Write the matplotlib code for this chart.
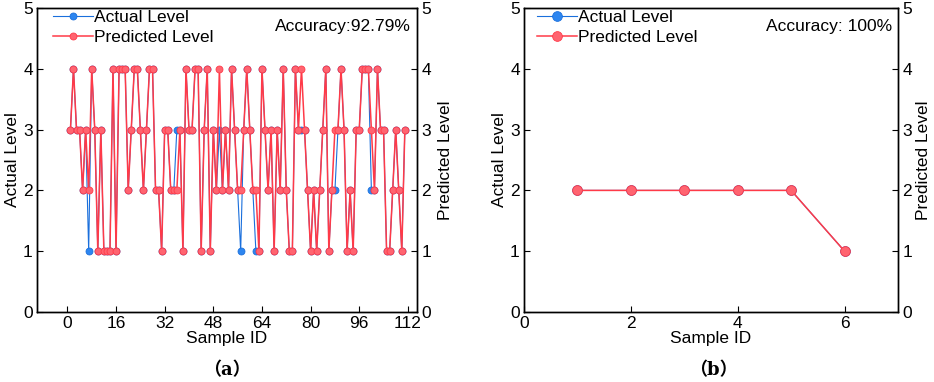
import matplotlib
matplotlib.use("Agg")
import matplotlib.pyplot as plt
import numpy as np

plt.rcParams['font.family'] = ['Liberation Sans', 'DejaVu Sans']

# ---- data: panel (a) ----
predicted_a = [3, 4, 3, 3, 2, 3, 2, 4, 3, 1,
               3, 1, 1, 1, 4, 1, 4, 4, 4, 2,
               3, 4, 4, 3, 2, 3, 4, 4, 2, 2,
               1, 3, 3, 2, 2, 2, 3, 1, 4, 3,
               3, 4, 4, 1, 3, 4, 1, 3, 2, 4,
               2, 3, 2, 4, 3, 2, 2, 3, 4, 3,
               2, 2, 1, 4, 3, 2, 3, 1, 3, 2,
               4, 2, 1, 1, 4, 3, 4, 3, 2, 1,
               2, 1, 2, 3, 4, 1, 2, 3, 3, 4,
               3, 1, 2, 1, 3, 3, 4, 4, 4, 3,
               2, 4, 3, 3, 1, 1, 2, 3, 2, 1,
               3]
# indices (1-based) where actual differs from predicted, and actual values
mismatch_ids = [7, 36, 50, 57, 62, 77, 88, 100]
mismatch_actual = [1, 3, 3, 1, 1, 3, 2, 2]
accuracy_a = "Accuracy:92.79%"

# ---- data: panel (b) ----
sample_b = [1, 2, 3, 4, 5, 6]
actual_b = [2, 2, 2, 2, 2, 1]
predicted_b = [2, 2, 2, 2, 2, 1]
accuracy_b = "Accuracy: 100%"

sample_a = list(range(1, len(predicted_a) + 1))
actual_a = list(predicted_a)
for i, v in zip(mismatch_ids, mismatch_actual):
    actual_a[i - 1] = v

BLUE = '#1a6fdc'
BLUE_F = '#2d86f0'
RED = '#ff3a48'
RED_F = '#ff6470'

fig = plt.figure(figsize=(9.34, 3.82), dpi=100)
ax1 = fig.add_axes([37/934, 70/382, 380/934, 304/382])
ax2 = fig.add_axes([524/934, 70/382, 374/934, 304/382])

def setup(ax, xlim, xticks, acc, tag, tag_x, rpad):
    axr = ax.twinx()
    for a in (ax, axr):
        a.set_ylim(0, 5)
        a.set_yticks([0, 1, 2, 3, 4, 5])
        a.tick_params(direction='in', length=4, width=0.8, labelsize=12.5, pad=3)
        for s in a.spines.values():
            s.set_linewidth(1.0)
    ax.set_xlim(*xlim)
    ax.set_xticks(xticks)
    ax.set_ylabel("Actual Level", fontsize=12.5, labelpad=2)
    axr.set_ylabel("Predicted Level", fontsize=12.5, labelpad=rpad)
    ax.set_xlabel("Sample ID", fontsize=12.5, labelpad=0)
    ax.text(0.985, 0.965, acc, transform=ax.transAxes, ha='right', va='top', fontsize=12.5)
    fig.text(tag_x / 934, 1 - 370 / 382, tag, ha='center', va='center',
             fontsize=13, fontweight='bold', family=['DejaVu Serif', 'Noto Sans CJK SC'])
    return axr

def legend(ax, handles, x0):
    ax.legend(handles=handles, loc='upper left', frameon=False, fontsize=12.5,
              handlelength=2.3, handletextpad=0.05, borderaxespad=0.0, labelspacing=0.3,
              borderpad=0.0, bbox_to_anchor=(x0, 0.995))

axr1 = setup(ax1, (-10, 115), [0, 16, 32, 48, 64, 80, 96, 112], accuracy_a, "（a）", 227, 5)
l1, = ax1.plot(sample_a, actual_a, '-o', color=BLUE, lw=0.8, ms=5, mfc=BLUE_F, mec=BLUE, mew=0.6,
               label="Actual Level")
l2, = axr1.plot(sample_a, predicted_a, '-o', color=RED, lw=1.1, ms=5, mfc=RED_F, mec=RED, mew=0.6,
                label="Predicted Level")
legend(ax1, [l1, l2], 0.042)

axr2 = setup(ax2, (0, 7), [0, 2, 4, 6], accuracy_b, "（b）", 713, 3)
m1, = ax2.plot(sample_b, actual_b, '-o', color=BLUE, lw=0.8, ms=7, mfc=BLUE_F, mec=BLUE, mew=0.6,
               label="Actual Level")
m2, = axr2.plot(sample_b, predicted_b, '-o', color=RED, lw=1.1, ms=7, mfc=RED_F, mec=RED, mew=0.6,
                label="Predicted Level")
legend(ax2, [m1, m2], 0.034)

fig.savefig("out.png", dpi=100)
